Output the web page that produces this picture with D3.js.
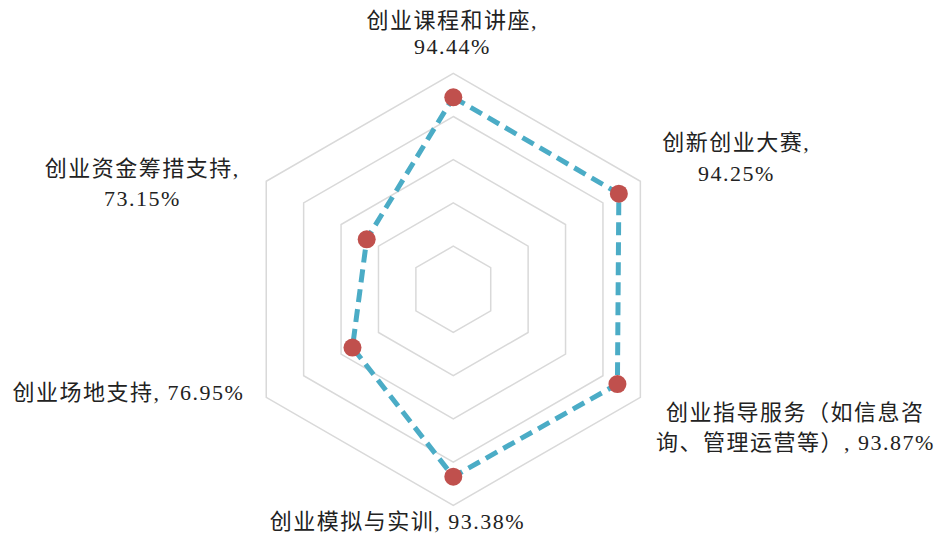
<!DOCTYPE html>
<html>
<head>
<meta charset="utf-8">
<script src="https://cdn.jsdelivr.net/npm/d3@7"></script>
<style>
  html, body { margin: 0; padding: 0; background: #fff; }
  svg text {
    font-family: "Liberation Serif", "Noto Sans CJK SC", serif;
    font-size: 22px;
    letter-spacing: 1.5px;
    fill: #222;
  }
</style>
</head>
<body>
<svg id="chart" width="943" height="542"></svg>
<script>
// categories clockwise from the top, with label line breaks
const categories = [
  '创业课程和讲座',
  '创新创业大赛',
  '创业指导服务（如信息咨询、管理运营等）',
  '创业模拟与实训',
  '创业场地支持',
  '创业资金筹措支持'
];
const values = [94.44, 94.25, 93.87, 93.38, 76.95, 73.15];
const labelLines = [
  ['创业课程和讲座,', '94.44%'],
  ['创新创业大赛,', '94.25%'],
  ['创业指导服务（如信息咨', '询、管理运营等）, 93.87%'],
  ['创业模拟与实训, 93.38%'],
  ['创业场地支持, 76.95%'],
  ['创业资金筹措支持,', '73.15%']
];
const ringTicks = [60, 70, 80, 90, 100];

// layout
const cx = 453.3, cy = 289.3, R = 216;
// label anchors, relative to centre (first baseline)
const labelAnchor = [
  [-1, -261], [283, -139], [342, 131], [-56, 240], [-325, 111], [-311, -113]
];
const lineGap = [26, 31, 30, 0, 0, 30];

const svg = d3.select('#chart');
const g = svg.append('g').attr('transform', `translate(${cx},${cy})`);

const r = d3.scaleLinear().domain([50, 100]).range([0, R]);
const angle = d3.scalePoint()
  .domain(d3.range(categories.length))
  .range([0, 2 * Math.PI * (categories.length - 1) / categories.length]);

const pt = (i, v) => {
  const a = angle(i);
  return [r(v) * Math.sin(a), -r(v) * Math.cos(a)];
};

// rings
const ring = d3.line().curve(d3.curveLinearClosed);
g.selectAll('.ring')
  .data(ringTicks)
  .enter()
  .append('path')
  .attr('class', 'ring')
  .attr('d', t => ring(categories.map((c, i) => pt(i, t))))
  .attr('fill', 'none')
  .attr('stroke', '#d9d9d9')
  .attr('stroke-width', 1.5);

// series
const pts = values.map((v, i) => pt(i, v));
g.append('path')
  .attr('d', ring(pts))
  .attr('fill', 'none')
  .attr('stroke', '#4bacc6')
  .attr('stroke-width', 5)
  .attr('stroke-dasharray', '13,7')
  .attr('stroke-linejoin', 'round');

g.selectAll('.dot')
  .data(pts)
  .enter()
  .append('circle')
  .attr('class', 'dot')
  .attr('cx', d => d[0])
  .attr('cy', d => d[1])
  .attr('r', 9)
  .attr('fill', '#c0504d');

// labels
labelLines.forEach((lines, i) => {
  const t = g.append('text')
    .attr('text-anchor', 'middle')
    .attr('x', labelAnchor[i][0])
    .attr('y', labelAnchor[i][1]);
  lines.forEach((line, j) => {
    t.append('tspan')
      .attr('x', labelAnchor[i][0])
      .attr('dy', j === 0 ? 0 : lineGap[i])
      .text(line);
  });
});
</script>
</body>
</html>
